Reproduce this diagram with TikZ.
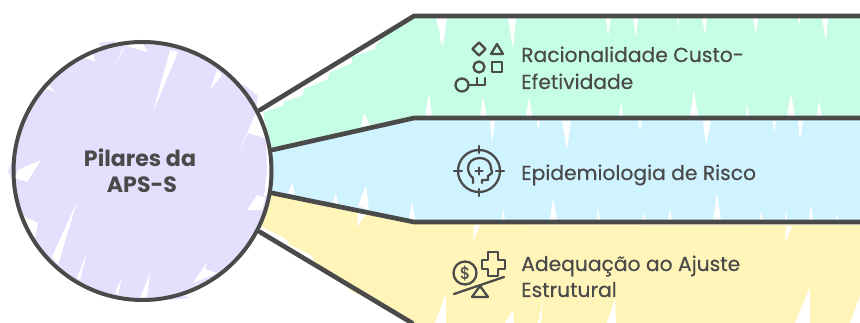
\documentclass[tikz,border=0pt]{standalone}
\usepackage{fontspec}
\setmainfont{Poppins}
\newfontfamily\labfont[FakeBold=0.5]{Poppins}
\definecolor{ink}{HTML}{4A4A4A}
\definecolor{mint}{HTML}{C6FDE5}
\definecolor{sky}{HTML}{CFF3FF}
\definecolor{butter}{HTML}{FFF5B8}
\definecolor{lilac}{HTML}{E5DFFE}
\tikzset{
  band/.style={draw=ink,line width=3.5pt,line join=round,line cap=round},
  slit/.style={fill=white,draw=none},
  icon/.style={draw=ink,line width=1.7pt,line cap=round,line join=round},
  label/.style={anchor=base west,text=ink,font=\labfont\fontsize{15.2pt}{18pt}\selectfont,inner sep=0pt},
  hubtext/.style={anchor=base,text=ink,font=\fontsize{16.6pt}{20pt}\selectfont\bfseries,inner sep=0pt},
  hubnode/.style={circle,draw=ink,line width=3pt,minimum size=193.5pt,inner sep=0pt}
}
\begin{document}
\begin{tikzpicture}[x=0.75pt,y=-0.75pt]
\useasboundingbox (0,0) rectangle (860,323);
\fill[white] (0,0) rectangle (860,323);
% band fills
\fill[mint] (263,112)--(283,106)--(284,102)--(303,95)--(304,89)--(328,79)--(329,73)--(352,63)--(352,57)--(375,49)--(376,45)--(393,27)--(414,18)--(860,18)--(860,118)--(414,118)--(272,150)--cycle;
\fill[sky] (268,152)--(414,119)--(860,120)--(860,222)--(414,222)--(268,192)--cycle;
\fill[butter] (268,194)--(300,198)--(414,224)--(860,225)--(860,323)--(415,323)--(350,290)--(340,278)--(315,262)--(311,255)--(290,245)--(285,238)--(260,226)--cycle;
% white hachure gaps, mint
\fill[slit] (440,18)--(445,18)--(440,45)--cycle (508,18)--(516,18)--(513,50)--cycle (606,18)--(611,18)--(608,37)--cycle (633,18)--(638,18)--(636,37)--cycle (677,18)--(679,18)--(678,30)--cycle (702,18)--(707,18)--(705,35)--cycle (753,18)--(758,18)--(756,35)--cycle (798,18)--(800,18)--(799,27)--cycle (822,18)--(828,18)--(826,42)--cycle (436,18)--(447,18)--(443,47)--cycle;
\fill[slit] (480,116)--(487,116)--(483,97)--cycle (526,116)--(532,116)--(529,97)--cycle (619,116)--(623,116)--(621,102)--cycle (690,116)--(698,116)--(694,90)--cycle (746,116)--(749,116)--(747,103)--cycle (787,116)--(795,116)--(791,93)--cycle (817,116)--(822,116)--(819,100)--cycle (425,117)--(432,117)--(429,92)--cycle (361,127)--(370,125)--(364,113)--cycle;
% white hachure gaps, sky
\fill[slit] (490,121)--(495,121)--(492,143)--cycle (537,121)--(540,121)--(538,130)--cycle (562,121)--(571,121)--(567,150)--cycle (638,121)--(642,121)--(640,132)--cycle (703,121)--(711,121)--(706,145)--cycle (773,121)--(776,121)--(774,135)--cycle (798,121)--(803,121)--(800,140)--cycle;
\fill[slit] (502,220)--(505,220)--(503,208)--cycle (550,220)--(557,220)--(553,198)--cycle (597,220)--(600,220)--(598,208)--cycle (643,220)--(646,220)--(644,212)--cycle (668,220)--(672,220)--(670,208)--cycle (713,220)--(721,220)--(717,193)--cycle (760,220)--(763,220)--(761,210)--cycle (785,220)--(787,220)--(786,208)--cycle (809,220)--(813,220)--(811,205)--cycle (836,220)--(838,220)--(837,212)--cycle;
\fill[slit] (288,193)--(295,195)--(292,183)--cycle (333,203)--(338,204)--(336,193)--cycle (358,206)--(369,210)--(366,185)--cycle (409,219)--(415,220)--(412,202)--cycle (357,227)--(368,212)--(358,208)--cycle;
% white hachure gaps, butter
\fill[slit] (473,241)--(480,225)--(474,225)--cycle (785,242)--(792,227)--(786,226)--cycle (435,323)--(446,293)--(446,323)--cycle (607,323)--(615,298)--(616,323)--cycle (795,323)--(810,287)--(810,323)--cycle (538,323)--(543,300)--(541,323)--cycle (505,323)--(513,310)--(514,323)--cycle (850,323)--(860,296)--(860,323)--cycle;
% band outlines
\coordinate (c1) at (260,110); \coordinate (k1) at (414,16); \coordinate (e1) at (860,16);
\coordinate (c2) at (272,150); \coordinate (k2) at (414,118); \coordinate (e2) at (860,118);
\coordinate (c3) at (272,193); \coordinate (k3) at (414,222); \coordinate (e3) at (860,222);
\coordinate (c4) at (260,232); \coordinate (k4) at (412,323);
\draw[band] (c1)--(k1)--(e1);
\draw[band] (c2)--(k2)--(e2);
\draw[band] (c3)--(k3)--(e3);
\draw[band] (c4)--(k4);
% hub fill
\fill[white] (142.5,171) circle[radius=129];
\fill[lilac] (142.5,171) circle[radius=127];
\fill[lilac] (243,84)--(258,96)--(254,118)--cycle (8,172)--(17,150)--(17,182)--cycle (98,43)--(116,41)--(105,50)--cycle (180,294)--(190,298)--(170,300)--cycle;
\fill[slit] (170,50)--(178,52)--(153,112)--cycle (217,70)--(222,75)--(210,90)--cycle (238,153)--(257,111)--(270,140)--(264,138)--(248,133)--cycle (266,140)--(272,160)--(268,196)--(264,196)--(267,170)--cycle (247,210)--(257,195)--(265,198)--(262,210)--cycle (41,160)--(27,182)--(15,178)--(18,170)--cycle (38,223)--(27,218)--(18,212)--(30,240)--(33,248)--cycle (77,202)--(52,257)--(58,265)--cycle (87,252)--(77,278)--(80,280)--cycle (122,277)--(115,293)--(118,295)--cycle (150,273)--(140,298)--(147,298)--cycle (207,262)--(193,283)--(217,273)--(205,269)--cycle (125,47)--(115,65)--(122,50)--cycle (123,45)--(147,52)--(143,43)--cycle (55,92)--(47,89)--(40,95)--(45,82)--cycle (95,61)--(83,58)--(93,53)--cycle;
\node[hubnode] (hub) at (142.5,171) {};
\node[hubtext] (hubA) at (140,167) {Pilares da};
\node[hubtext] (hubB) at (142,193) {APS-S};
% labels
\node[label] (t1a) at (521,62) {Racionalidade Custo-};
\node[label] (t1b) at (521,89) {Efetividade};
\node[label] (t2) at (521,180) {Epidemiologia de Risco};
\node[label] (t3a) at (521,271) {Adequação ao Ajuste};
\node[label] (t3b) at (521,297) {Estrutural};
% icon: shapes and key
\draw[icon] (479,42.5)--(485.5,49)--(479,55.5)--(472.5,49)--cycle;
\draw[icon] (497,44)--(503,54)--(491,54)--cycle;
\draw[icon] (479,67) circle[radius=5.5];
\draw[icon] (492,62) rectangle (502,72);
\draw[icon] (462,85) circle[radius=6.5];
\draw[icon] (468.5,85)--(485,85)--(485,78) (477,85)--(477,78);
% icon: target head
\draw[icon] (479,171) circle[radius=21];
\draw[icon] (479,146)--(479,153) (479,189)--(479,196) (454,171)--(462,171) (496,171)--(504,171);
\draw[icon] (473,183)--(473,178) .. controls (470,176) and (468,172) .. (468,168) .. controls (468,162) and (473,158) .. (480,158) .. controls (487,158) and (491,163) .. (491,168)--(492,173)--(488,176)--(488,180)--(482,180)--(482,183);
\draw[icon] (475.5,171)--(482.5,171) (479,167.5)--(479,174.5);
% icon: scale
\draw[icon] (465,273) circle[radius=11.5];
\node[text=ink,font=\labfont\fontsize{12.5pt}{12pt}\selectfont,inner sep=0pt] (dollar) at (465,273) {\$};
\draw[icon] (488,252)--(498,252)--(498,260)--(505,260)--(505,269)--(498,269)--(498,276)--(488,276)--(488,269)--(482,269)--(482,260)--(488,260)--cycle;
\draw[icon] (454,294)--(504,277);
\draw[icon] (480,286)--(488,297)--(472,297)--cycle;
\end{tikzpicture}
\end{document}
